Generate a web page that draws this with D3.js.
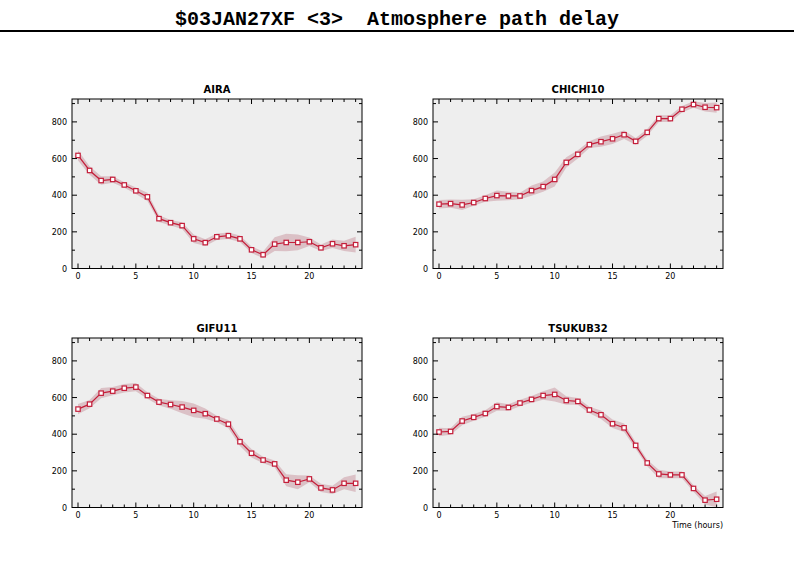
<!DOCTYPE html>
<html><head><meta charset="utf-8">
<script src="https://cdn.jsdelivr.net/npm/d3@7"></script>
<style>body{margin:0;background:#fff}svg{display:block}</style>
</head><body>
<svg id="c" width="794" height="577"></svg>
<script>
const titleText = "$03JAN27XF <3>  Atmosphere path delay";
const hours = d3.range(0, 25);
const stations = ["AIRA", "CHICHI10", "GIFU11", "TSUKUB32"];
const airaDelay = [617,535,480,486,456,424,391,272,250,234,162,141,173,179,162,102,75,133,142,142,146,113,135,124,130];
const airaErr   = [28,23,23,18,15,18,23,18,15,18,23,18,18,18,18,18,18,38,48,43,23,18,23,28,43];
const chichiDelay = [351,354,347,360,382,398,396,396,425,447,486,579,623,676,692,708,730,694,743,818,818,869,895,880,878];
const chichiErr   = [23,23,28,18,18,28,23,18,28,28,38,28,23,18,28,28,23,18,18,18,18,18,18,23,28];
const gifuDelay = [537,564,624,635,651,657,611,575,562,548,530,512,483,455,359,296,259,238,149,138,156,107,96,132,132];
const gifuErr   = [28,23,28,23,23,23,18,18,23,33,38,28,18,23,23,23,18,18,33,38,18,23,23,33,48];
const tsukubDelay = [412,415,472,492,513,551,546,570,590,611,617,584,579,532,506,457,435,339,243,183,178,178,104,40,45];
const tsukubErr   = [23,18,23,18,18,23,18,18,18,23,38,23,18,18,23,23,23,18,18,23,18,18,18,23,43];
const yTickValues = [0,200,400,600,800];
const xTickValues = [0,5,10,15,20];
const xLabel = "Time (hours)";

const series = [airaDelay, chichiDelay, gifuDelay, tsukubDelay];
const errors = [airaErr, chichiErr, gifuErr, tsukubErr];

const svg = d3.select("#c");
svg.append("text").attr("x", 397).attr("y", 25).attr("text-anchor", "middle")
  .attr("font-family", "Liberation Mono, DejaVu Sans Mono, monospace").attr("font-weight", "bold")
  .attr("font-size", 20).attr("fill", "#000").attr("xml:space","preserve").text(titleText);
svg.append("line").attr("x1", 0).attr("x2", 794).attr("y1", 31).attr("y2", 31)
  .attr("stroke", "#000").attr("stroke-width", 2);

const panels = [
  {x0: 72, y0: 99}, {x0: 433, y0: 99}, {x0: 72, y0: 338}, {x0: 433, y0: 338}
];
const W = 290, H = 169.5;
const lineColor = "#c41e3a", bandColor = "#dbc1c6", bg = "#eeeeee";

panels.forEach((p, i) => {
  const g = svg.append("g").attr("transform", `translate(${p.x0},${p.y0})`);
  const x = d3.scaleLinear().domain([-0.52, 24.55]).range([0, W]);
  const y = d3.scaleLinear().domain([0, 925]).range([H, 0]);
  const vals = series[i], errs = errors[i];
  const data = hours.map((h, k) => ({h, v: vals[k], e: errs[k]}));

  g.append("rect").attr("width", W).attr("height", H).attr("fill", bg);

  g.append("path").datum(data).attr("fill", bandColor)
    .attr("d", d3.area().x(d => x(d.h)).y0(d => y(d.v - d.e)).y1(d => y(d.v + d.e)));
  g.append("path").datum(data).attr("fill", "none").attr("stroke", lineColor).attr("stroke-width", 1.2)
    .attr("d", d3.line().x(d => x(d.h)).y(d => y(d.v)));
  g.selectAll("rect.m").data(data).enter().append("rect").attr("class","m")
    .attr("x", d => x(d.h) - 2.2).attr("y", d => y(d.v) - 2.2).attr("width", 4.4).attr("height", 4.4)
    .attr("fill", "#fff").attr("stroke", lineColor).attr("stroke-width", 1.2);

  const tk = g.append("g").attr("stroke", "#000").attr("stroke-width", 1);
  d3.range(0, 901, 100).forEach(v => {
    const len = v % 200 === 0 ? 5 : 3;
    tk.append("line").attr("x1", 0).attr("x2", len).attr("y1", y(v)).attr("y2", y(v));
    tk.append("line").attr("x1", W).attr("x2", W - len).attr("y1", y(v)).attr("y2", y(v));
  });
  hours.forEach(h => {
    const len = h % 5 === 0 ? 5 : 3;
    tk.append("line").attr("y1", H).attr("y2", H - len).attr("x1", x(h)).attr("x2", x(h));
    tk.append("line").attr("y1", 0).attr("y2", len).attr("x1", x(h)).attr("x2", x(h));
  });
  g.append("rect").attr("width", W).attr("height", H).attr("fill", "none").attr("stroke", "#000").attr("stroke-width", 1);

  const fnt = "DejaVu Sans, sans-serif";
  g.selectAll("text.yl").data(yTickValues).enter().append("text").attr("class","yl")
    .attr("x", -5).attr("y", d => y(d) + 3).attr("text-anchor", "end")
    .attr("font-family", fnt).attr("font-size", 8).text(d => d);
  g.selectAll("text.xl").data(xTickValues).enter().append("text").attr("class","xl")
    .attr("x", d => x(d)).attr("y", H + 10).attr("text-anchor", "middle")
    .attr("font-family", fnt).attr("font-size", 8).text(d => d);
  g.append("text").attr("x", W / 2).attr("y", -6).attr("text-anchor", "middle")
    .attr("font-family", fnt).attr("font-weight", "bold").attr("font-size", 10).text(stations[i]);
  if (i === 3) {
    g.append("text").attr("x", W).attr("y", H + 20).attr("text-anchor", "end")
      .attr("font-family", fnt).attr("font-size", 8).text(xLabel);
  }
});
</script>
</body></html>
